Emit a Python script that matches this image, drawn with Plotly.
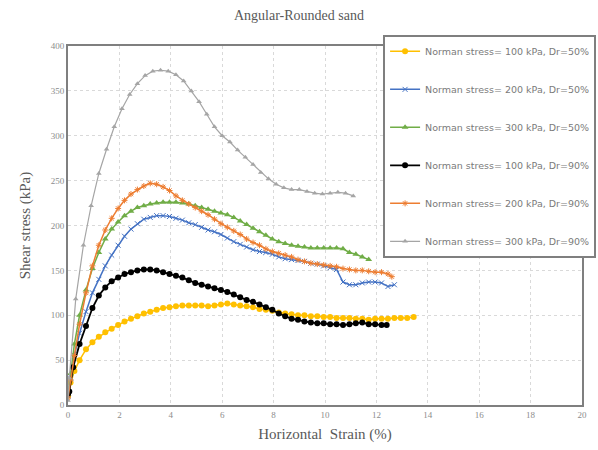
import plotly.graph_objects as go

# ---- data ----
strain_a = [0, 0.1, 0.25, 0.45, 0.7, 0.95, 1.2, 1.45, 1.7, 1.95, 2.2, 2.45, 2.7, 2.95, 3.2, 3.45,
            3.7, 3.95, 4.2, 4.45, 4.7, 4.95, 5.2, 5.45, 5.7, 5.95, 6.2, 6.45, 6.7, 6.95, 7.2, 7.45,
            7.7, 7.95, 8.2, 8.45, 8.7, 8.95, 9.2, 9.45, 9.7, 9.95, 10.2, 10.45, 10.7, 10.95, 11.2,
            11.45, 11.7, 11.95, 12.2, 12.45, 12.7, 12.95, 13.2, 13.45]

stress_100_d50 = [10, 25, 38, 50, 62, 70, 76, 81, 85, 89, 93, 96, 99, 102, 104, 106,
                  108, 109, 110, 111, 111, 111, 111, 110, 111, 112, 113, 112, 111, 110, 109, 107,
                  106, 105, 103, 102, 101, 100, 100, 99, 99, 98, 98, 97, 97, 97, 96,
                  96, 95, 96, 96, 96, 97, 97, 97, 98]

strain_b = [0, 0.05, 0.2, 0.45, 0.7, 0.95, 1.2, 1.45, 1.7, 1.95, 2.2, 2.45, 2.7, 2.95, 3.2, 3.45,
            3.7, 3.95, 4.2, 4.45, 4.7, 4.95, 5.2, 5.45, 5.7, 5.95, 6.2, 6.45, 6.7, 6.95, 7.2, 7.45,
            7.7, 7.95, 8.2, 8.45, 8.7, 8.95, 9.2, 9.45, 9.7, 9.95, 10.2, 10.45, 10.7, 10.95, 11.2,
            11.45, 11.7, 11.95, 12.2, 12.4]
stress_100_d90 = [12, 15, 42, 68, 88, 108, 122, 131, 138, 142, 146, 148, 150, 151, 151, 150,
                  148, 146, 144, 142, 139, 136, 134, 132, 130, 128, 126, 123, 120, 117, 115, 112,
                  109, 106, 102, 99, 96, 95, 93, 92, 91, 91, 90, 90, 89, 90, 91,
                  92, 90, 90, 89, 89]

strain_c = [0, 0.1, 0.25, 0.45, 0.7, 0.95, 1.2, 1.45, 1.7, 1.95, 2.2, 2.45, 2.7, 2.95, 3.2, 3.45,
            3.7, 3.95, 4.2, 4.45, 4.7, 4.95, 5.2, 5.45, 5.7, 5.95, 6.2, 6.45, 6.7, 6.95, 7.2, 7.45,
            7.7, 7.95, 8.2, 8.45, 8.7, 8.95, 9.2, 9.45, 9.7, 9.95, 10.2, 10.45, 10.7, 10.95, 11.2,
            11.45, 11.7, 11.95, 12.2, 12.45, 12.7]
stress_200_d50 = [10, 30, 55, 80, 104, 125, 140, 155, 167, 178, 188, 196, 202, 207, 209, 211,
                  211, 210, 208, 206, 203, 201, 198, 195, 193, 190, 186, 182, 179, 176, 173, 171,
                  170, 168, 165, 163, 162, 161, 160, 158, 157, 155, 153, 151, 137, 134, 134,
                  136, 137, 137, 136, 132, 134]

strain_d = [0, 0.1, 0.25, 0.45, 0.7, 0.95, 1.2, 1.45, 1.7, 1.95, 2.2, 2.45, 2.7, 2.95, 3.2, 3.45,
            3.7, 3.95, 4.2, 4.45, 4.7, 4.95, 5.2, 5.45, 5.7, 5.95, 6.2, 6.45, 6.7, 6.95, 7.2, 7.45,
            7.7, 7.95, 8.2, 8.45, 8.7, 8.95, 9.2, 9.45, 9.7, 9.95, 10.2, 10.45, 10.7, 10.95, 11.2,
            11.45, 11.7, 11.95, 12.2, 12.45, 12.6]
stress_200_d90 = [8, 28, 55, 90, 125, 155, 178, 195, 208, 219, 228, 235, 240, 244, 247, 246,
                  243, 239, 233, 228, 224, 220, 216, 212, 207, 202, 198, 194, 190, 185, 181, 178,
                  174, 171, 169, 167, 165, 162, 160, 158, 157, 156, 155, 154, 152, 151, 150,
                  150, 149, 148, 148, 146, 143]

strain_e = [0, 0.1, 0.25, 0.45, 0.7, 0.95, 1.2, 1.45, 1.7, 1.95, 2.2, 2.45, 2.7, 2.95, 3.2, 3.45,
            3.7, 3.95, 4.2, 4.45, 4.7, 4.95, 5.2, 5.45, 5.7, 5.95, 6.2, 6.45, 6.7, 6.95, 7.2, 7.45,
            7.7, 7.95, 8.2, 8.45, 8.7, 8.95, 9.2, 9.45, 9.7, 9.95, 10.2, 10.45, 10.7, 10.95, 11.2,
            11.45, 11.7]
stress_300_d50 = [12, 35, 68, 100, 128, 152, 170, 185, 196, 204, 211, 216, 220, 222, 224, 225,
                  226, 226, 226, 225, 224, 222, 220, 218, 216, 214, 212, 209, 205, 201, 197, 193,
                  189, 185, 182, 180, 178, 177, 176, 175, 175, 175, 175, 175, 174, 170, 168,
                  165, 162]

strain_f = [0, 0.05, 0.3, 0.6, 0.9, 1.2, 1.5, 1.8, 2.1, 2.4, 2.7, 3.0, 3.3, 3.6, 3.9, 4.2, 4.5,
            4.8, 5.1, 5.4, 5.7, 6.0, 6.3, 6.6, 6.9, 7.2, 7.5, 7.8, 8.1, 8.4, 8.7, 9.0, 9.3, 9.6,
            9.9, 10.2, 10.5, 10.8, 11.1]
stress_300_d90 = [5, 30, 118, 178, 222, 258, 285, 310, 330, 346, 358, 367, 372, 373, 372, 368, 361,
                  350, 338, 324, 310, 300, 293, 284, 276, 268, 259, 252, 246, 242, 240, 240, 238, 236,
                  235, 236, 237, 236, 233]

names = ["Norman stress= 100 kPa, Dr=50%", "Norman stress= 200 kPa, Dr=50%",
         "Norman stress= 300 kPa, Dr=50%", "Norman stress= 100 kPa, Dr=90%",
         "Norman stress= 200 kPa, Dr=90%", "Norman stress= 300 kPa, Dr=90%"]

xs = [strain_a, strain_c, strain_e, strain_b, strain_d, strain_f]
ys = [stress_100_d50, stress_200_d50, stress_300_d50, stress_100_d90, stress_200_d90, stress_300_d90]
colors = ["#FFC000", "#4472C4", "#70AD47", "#000000", "#ED7D31", "#A5A5A5"]
symbols = ["circle", "x-thin-open", "triangle-up", "circle", "asterisk-open", "triangle-up"]
msizes = [6, 5, 6, 6, 5, 5]
lwidths = [1.5, 1.5, 1.5, 1.8, 1.5, 1.2]

fig = go.Figure()
for i in range(6):
    sym = symbols[i]
    marker = dict(symbol=sym, size=msizes[i], color=colors[i])
    if "open" in sym:
        marker["line"] = dict(color=colors[i], width=1)
    fig.add_trace(go.Scatter(
        x=xs[i], y=ys[i], name=names[i], mode="lines+markers",
        line=dict(color=colors[i], width=lwidths[i]), marker=marker,
        legendgroup=f"g{i}"))

axis_common = dict(showline=True, linecolor="#7f7f7f", linewidth=2, mirror=True,
                   showgrid=True, gridcolor="#d9d9d9", griddash="dot", gridwidth=1,
                   zeroline=False, ticks="",
                   tickfont=dict(family="Liberation Serif", size=9, color="#8c8c8c"))

fig.update_layout(
    width=598, height=450,
    margin=dict(l=68, r=16, t=46, b=45, autoexpand=False),
    paper_bgcolor="white", plot_bgcolor="white",
    title=dict(text="Angular-Rounded sand", x=0.5, xanchor="center", y=0.967, yanchor="middle",
               font=dict(family="Liberation Serif", size=14, color="#595959")),
    xaxis=dict(range=[0, 20], dtick=2, tick0=0,
               title=dict(text="Horizontal  Strain (%)", standoff=10,
                          font=dict(family="Liberation Serif", size=15, color="#595959")),
               **axis_common),
    yaxis=dict(range=[0, 400], dtick=50, tick0=0,
               title=dict(text="Shear stress (kPa)", standoff=16,
                          font=dict(family="Liberation Serif", size=15, color="#595959")),
               **axis_common),
    legend=dict(x=0.613, y=1.031, xanchor="left", yanchor="top",
                bgcolor="white", bordercolor="#7f7f7f", borderwidth=2,
                font=dict(family="DejaVu Sans", size=9.5, color="#7a7a7a"),
                tracegroupgap=19, itemwidth=30),
    showlegend=True,
)

fig.write_html("out.html")
